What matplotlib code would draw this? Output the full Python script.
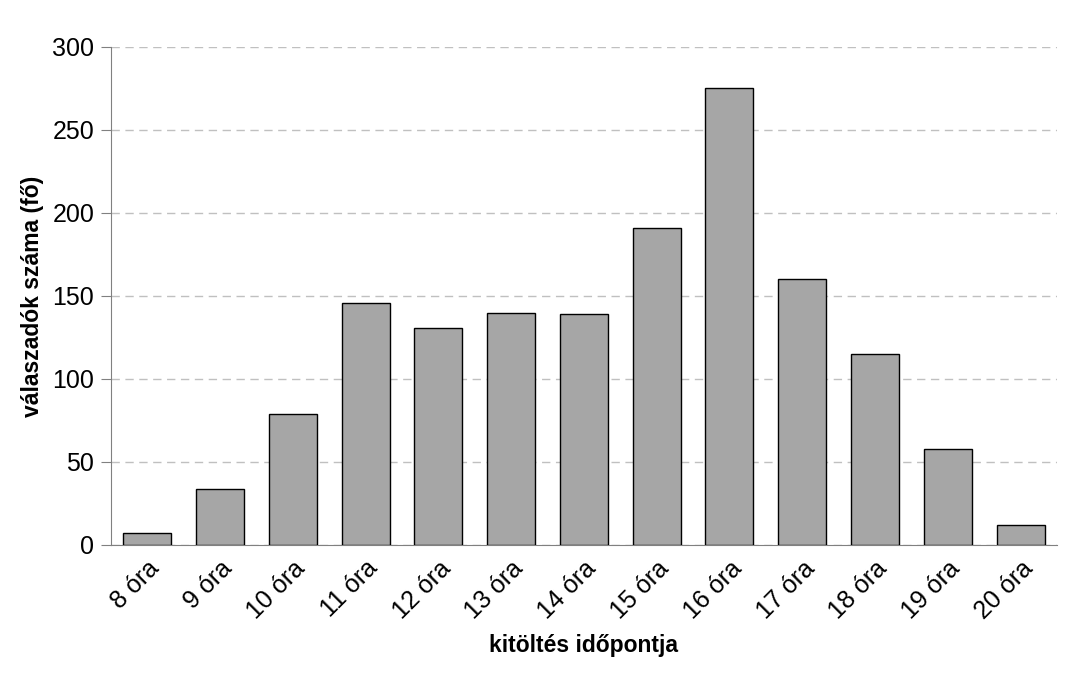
import matplotlib.pyplot as plt
import matplotlib.transforms as mtrans
import numpy as np

plt.rcParams['font.family'] = ['Liberation Sans', 'DejaVu Sans']

orak = ["8 óra", "9 óra", "10 óra", "11 óra", "12 óra", "13 óra", "14 óra",
        "15 óra", "16 óra", "17 óra", "18 óra", "19 óra", "20 óra"]
valaszadok = [7, 34, 79, 146, 131, 140, 139, 191, 275, 160, 115, 58, 12]

fig = plt.figure(figsize=(10.73, 6.75), dpi=100)
ax = fig.add_axes([0.1034, 0.1926, 0.8816, 0.7378])

x = np.arange(len(orak))
ax.bar(x, valaszadok, width=0.66, color='#a6a6a6', edgecolor='black', lw=1, zorder=3)

ax.set_xlim(-0.5, len(orak) - 0.5)
ax.set_ylim(0, 300)
ax.set_yticks(np.arange(0, 301, 50))
ax.set_xticks(x)
ax.set_xticklabels(orak, rotation=45, ha='right', rotation_mode='anchor')
off = mtrans.ScaledTranslation(-4 / 100, -6 / 100, fig.dpi_scale_trans)
for lab in ax.get_xticklabels():
    lab.set_transform(lab.get_transform() + off)

ax.grid(axis='y', color='#c0c0c0', linestyle=(0, (6, 4)), lw=1, zorder=0)
for s in ['top', 'right']:
    ax.spines[s].set_visible(False)
ax.spines['left'].set_color('#808080')
ax.spines['bottom'].set_color('#808080')
ax.tick_params(axis='y', length=7, color='#808080', labelsize=18, pad=5)
ax.tick_params(axis='x', length=0, labelsize=18, pad=8)

ax.set_xlabel("kitöltés időpontja", fontsize=16.5, fontweight='bold', labelpad=8)
ax.set_ylabel("válaszadók száma (fő)", fontsize=16.5, fontweight='bold', labelpad=6)

fig.savefig("out.png")
